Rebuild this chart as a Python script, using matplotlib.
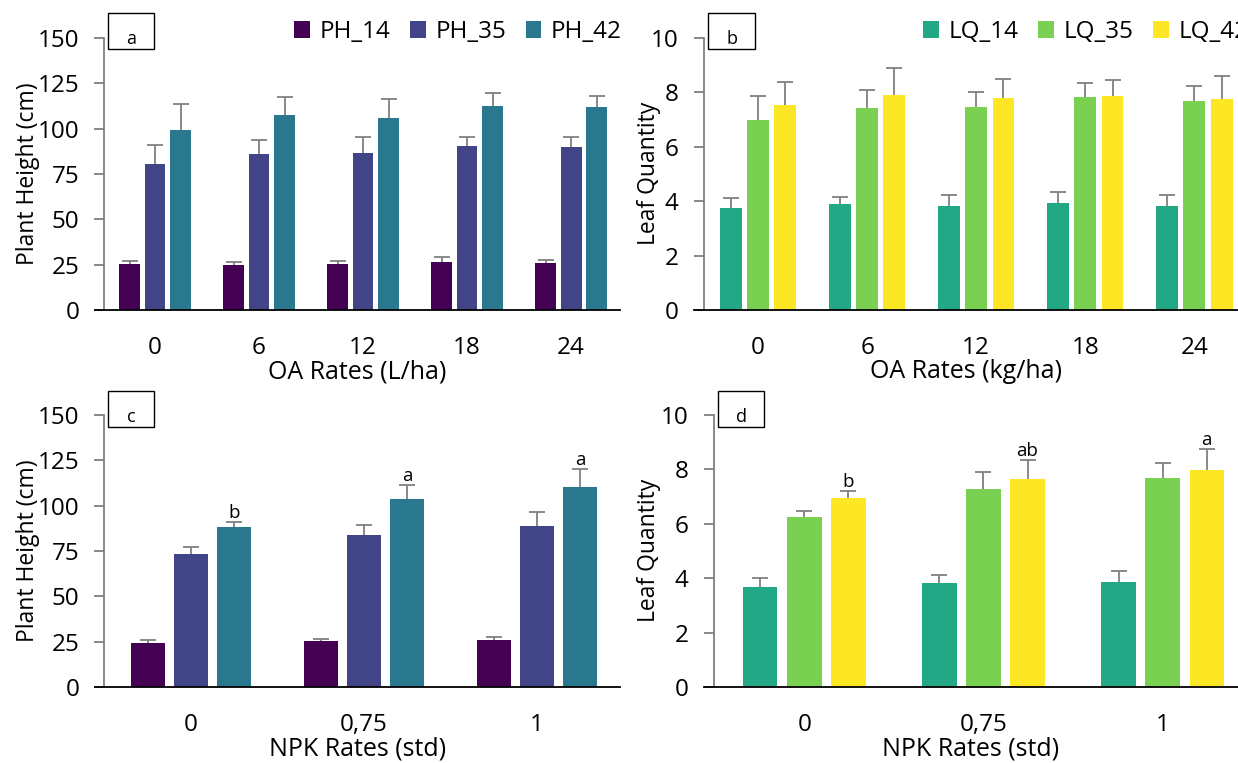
import matplotlib.pyplot as plt
import numpy as np
from matplotlib.patches import Rectangle

# categories
oa_rates = ["0", "6", "12", "18", "24"]
npk_rates = ["0", "0,75", "1"]
ph_names = ["PH_14", "PH_35", "PH_42"]
lq_names = ["LQ_14", "LQ_35", "LQ_42"]

# panel a: plant height vs OA rates (mean, upper error)
ph_oa_14 = [25.1, 24.8, 25.3, 26.2, 26.0]
ph_oa_35 = [80.5, 86.0, 86.4, 90.4, 89.9]
ph_oa_42 = [99.4, 107.8, 105.8, 112.6, 112.0]
ph_oa_14_err = [2.0, 1.6, 2.0, 3.0, 1.5]
ph_oa_35_err = [10.5, 7.7, 9.1, 4.8, 5.6]
ph_oa_42_err = [14.3, 9.4, 10.3, 7.1, 6.1]

# panel b: leaf quantity vs OA rates
lq_oa_14 = [3.74, 3.91, 3.81, 3.95, 3.84]
lq_oa_35 = [6.97, 7.43, 7.46, 7.82, 7.68]
lq_oa_42 = [7.55, 7.92, 7.80, 7.85, 7.75]
lq_oa_14_err = [0.37, 0.26, 0.43, 0.39, 0.39]
lq_oa_35_err = [0.90, 0.65, 0.56, 0.53, 0.55]
lq_oa_42_err = [0.85, 0.96, 0.68, 0.61, 0.86]

# panel c: plant height vs NPK rates
ph_npk_14 = [24.4, 25.1, 25.8]
ph_npk_35 = [73.1, 83.6, 88.9]
ph_npk_42 = [88.2, 103.5, 110.1]
ph_npk_14_err = [1.6, 1.5, 1.9]
ph_npk_35_err = [4.2, 5.9, 7.8]
ph_npk_42_err = [2.9, 7.6, 10.0]
ph_npk_letters = ["b", "a", "a"]

# panel d: leaf quantity vs NPK rates
lq_npk_14 = [3.68, 3.84, 3.86]
lq_npk_35 = [6.25, 7.26, 7.68]
lq_npk_42 = [6.95, 7.66, 7.96]
lq_npk_14_err = [0.33, 0.26, 0.40]
lq_npk_35_err = [0.23, 0.64, 0.54]
lq_npk_42_err = [0.27, 0.67, 0.77]
lq_npk_letters = ["b", "ab", "a"]

ph_colors = ["#440154", "#414487", "#2a788e"]
lq_colors = ["#22a884", "#7ad151", "#fde725"]

W, H = 1238, 763
FS = 17.5
GRAY = "#808080"

plt.rcParams["font.family"] = ["Open Sans", "DejaVu Sans"]


def px_rect(x0, y_top, x1, y_bottom):
    return [x0 / W, 1 - y_bottom / H, (x1 - x0) / W, (y_bottom - y_top) / H]


def draw_panel(ax, cats, names, means, errs, colors, ymax, ystep, ytop, xlim,
               xlabel, ylabel, tag, tag_x, ylabel_x, width=0.2, offset=0.25,
               letters=None, legend_x=None):
    x = np.arange(len(cats))
    for i, (name, m, e, c) in enumerate(zip(names, means, errs, colors)):
        xi = x + (i - 1) * offset
        m = np.array(m)
        e = np.array(e)
        ax.bar(xi, m, width=width, color=c, label=name, zorder=2)
        # upper error bar only (no cap at the bar top)
        ax.vlines(xi, m, m + e, color=GRAY, linewidth=1.3, zorder=3)
        ax.plot(xi, m + e, ls="none", marker="_", markersize=11,
                markeredgewidth=1.3, color=GRAY, zorder=3)

    # significance letters above the last series
    if letters is not None:
        for xi, m, e, lt in zip(x + offset, means[-1], errs[-1], letters):
            ax.annotate(lt, (xi, m + e), xytext=(0, 0), textcoords="offset points",
                        ha="center", va="bottom", fontsize=13.5)

    ax.set_xlim(*xlim)
    ax.set_ylim(0, ytop)
    ax.set_yticks(np.arange(0, ymax + ystep / 2, ystep))
    ax.set_xticks(x)
    ax.set_xticklabels(cats)
    ax.tick_params(axis="x", length=0, pad=19, labelsize=FS)
    ax.tick_params(axis="y", length=7, width=1.3, color=GRAY, pad=11, labelsize=FS)

    for s in ["top", "right"]:
        ax.spines[s].set_visible(False)
    ax.spines["left"].set_position(("axes", 0.018))
    ax.spines["left"].set_bounds(0, ymax)
    ax.spines["left"].set_color(GRAY)
    ax.spines["left"].set_linewidth(1.3)
    ax.spines["bottom"].set_linewidth(1.3)

    ax.set_xlabel(xlabel, fontsize=18, labelpad=-1)
    ax.set_ylabel(ylabel, fontsize=16.5)
    ax.yaxis.set_label_coords(ylabel_x, 0.46)

    # panel tag box
    box_h = 0.122
    ax.add_patch(
        Rectangle((tag_x, 1 - box_h), 0.087, box_h, transform=ax.transAxes,
                  fill=False, edgecolor="black", linewidth=1, clip_on=False)
    )
    ax.text(tag_x + 0.0435, 1 - box_h * 0.72, tag, transform=ax.transAxes,
            ha="center", va="center", fontsize=13)

    if legend_x is not None:
        ax.legend(
            loc="center left",
            bbox_to_anchor=(legend_x, 0.936),
            ncol=3,
            frameon=False,
            fontsize=FS,
            handlelength=0.65,
            handleheight=0.65,
            handletextpad=0.4,
            columnspacing=0.8,
            borderaxespad=0,
            borderpad=0,
        )


fig = plt.figure(figsize=(W / 100, H / 100), dpi=100)

ax_a = fig.add_axes(px_rect(95, 13, 620, 310))
draw_panel(
    ax_a, oa_rates, ph_names,
    [ph_oa_14, ph_oa_35, ph_oa_42],
    [ph_oa_14_err, ph_oa_35_err, ph_oa_42_err],
    ph_colors, 150, 25, 163.8, (-0.577, 4.47),
    "OA Rates (L/ha)", "Plant Height (cm)", "a", 0.025, -0.105,
    width=0.2, offset=0.245, legend_x=0.379,
)

ax_b = fig.add_axes(px_rect(694, 13, 1238, 310))
draw_panel(
    ax_b, oa_rates, lq_names,
    [lq_oa_14, lq_oa_35, lq_oa_42],
    [lq_oa_14_err, lq_oa_35_err, lq_oa_42_err],
    lq_colors, 10, 2, 10.92, (-0.587, 4.40),
    "OA Rates (kg/ha)", "Leaf Quantity", "b", 0.026, -0.061,
    width=0.2, offset=0.25, legend_x=0.421,
)

ax_c = fig.add_axes(px_rect(95, 391, 620, 687))
draw_panel(
    ax_c, npk_rates, ph_names,
    [ph_npk_14, ph_npk_35, ph_npk_42],
    [ph_npk_14_err, ph_npk_35_err, ph_npk_42_err],
    ph_colors, 150, 25, 163.2, (-0.555, 2.48),
    "NPK Rates (std)", "Plant Height (cm)", "c", 0.025, -0.105,
    width=0.197, offset=0.25, letters=ph_npk_letters,
)

ax_d = fig.add_axes(px_rect(704, 391, 1238, 687))
draw_panel(
    ax_d, npk_rates, lq_names,
    [lq_npk_14, lq_npk_35, lq_npk_42],
    [lq_npk_14_err, lq_npk_35_err, lq_npk_42_err],
    lq_colors, 10, 2, 10.88, (-0.559, 2.42),
    "NPK Rates (std)", "Leaf Quantity", "d", 0.026, -0.081,
    width=0.193, offset=0.246, letters=lq_npk_letters,
)

fig.savefig("out.png", dpi=100)
